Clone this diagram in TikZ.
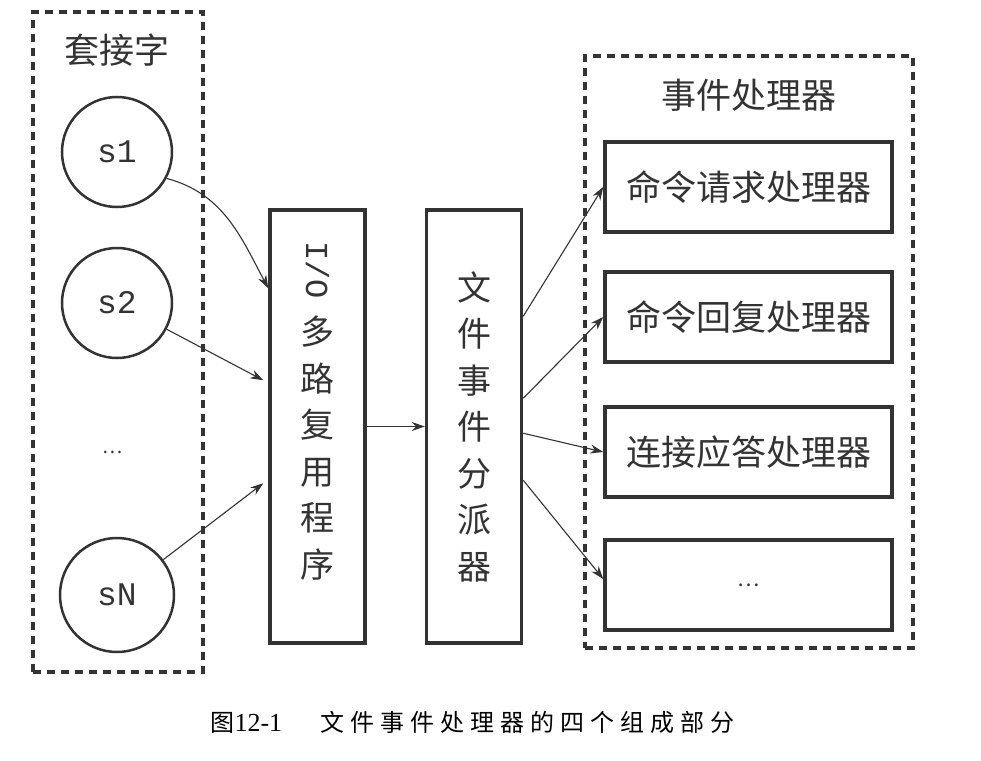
\documentclass[tikz,border=0pt]{standalone}
\usepackage{fontspec}
\setmainfont{Noto Sans CJK SC}
\newfontfamily\monof{Liberation Mono}
\newfontfamily\capserif{Liberation Serif}
\newfontfamily\capcjk[LetterSpace=25]{Noto Sans CJK SC}
\usetikzlibrary{arrows.meta,calc}
\definecolor{ink}{HTML}{333333}
\begin{document}
\begin{tikzpicture}[x=1pt,y=-1pt,
  grp/.style={draw=ink, line width=3.5pt, dash pattern=on 8pt off 6pt, inner sep=0},
  sock/.style={circle, draw=ink, line width=2.5pt, minimum size=110pt, inner sep=0, text=ink, font=\monof\fontsize{33}{33}\selectfont},
  box/.style={draw=ink, line width=3.5pt, inner sep=0, text=ink},
  hbox/.style={box, minimum width=287pt, minimum height=90pt, font=\fontsize{35}{35}\selectfont},
  title/.style={text=ink, font=\fontsize{35}{35}\selectfont},
  vtext/.style={text=ink, align=center, font=\fontsize{34}{46.5}\selectfont},
  arr/.style={draw=ink, line width=1.1pt, -{Stealth[length=13pt,width=9pt]}}]
\useasboundingbox[fill=white] (0,0) rectangle (981,760);
% sockets group
\node[grp, minimum width=170pt, minimum height=660pt] (sockets) at (118,342) {};
\node[title] (sockT) at (117,50) {套接字};
\node[sock] (s1) at (117,152) {s1};
\node[sock] (s2) at (117,303) {s2};
\node[text=ink, font=\fontsize{19}{19}\selectfont] (sdots) at (113,452) {…};
\node[sock, minimum size=114pt] (sN) at (117,595) {sN};
% I/O multiplexer
\node[box, minimum width=95pt, minimum height=433pt] (io) at (317.5,426.5) {};
\node[vtext, anchor=north] (ioT) at (317.5,238) {\rotatebox{-90}{\monof\fontsize{32}{32}\selectfont I/O}\\[16pt]多\\路\\复\\用\\程\\序};
% dispatcher
\node[box, minimum width=95pt, minimum height=433pt, vtext] (disp) at (474,426.5) {文\\件\\事\\件\\分\\派\\器};
% handlers group
\node[grp, minimum width=328pt, minimum height=592pt] (handlers) at (749,352) {};
\node[title] (handT) at (749,95) {事件处理器};
\node[hbox] (h1) at (748.5,187) {命令请求处理器};
\node[hbox] (h2) at (748.5,317) {命令回复处理器};
\node[hbox] (h3) at (748.5,452) {连接应答处理器};
\node[hbox, font=\fontsize{21}{21}\selectfont] (h4) at (748.5,585) {…};
% connectors
\draw[arr] (s1.-28) to[out=-15,in=118] ($(io.north west)+(0,80)$);
\draw[arr] (s2) -- ($(io.north west)+(-5,172)$);
\draw[arr] (sN) -- ($(io.north west)+(-5,275)$);
\draw[arr] (io) -- (disp);
\draw[arr] ($(disp.north east)+(0,108)$) -- (h1.west);
\draw[arr] ($(disp.north east)+(0,190)$) -- (h2.west);
\draw[arr] ($(disp.north east)+(0,225)$) -- (h3.west);
\draw[arr] ($(disp.north east)+(0,272)$) -- ($(h4.west)+(0,-6)$);
% caption
\node[anchor=west, text=black, font=\fontsize{24}{24}\selectfont] (cap) at (207,722) {图{\capserif\fontsize{26}{26}\selectfont 12-1}\hspace{38pt}{\capcjk 文件事件处理器的四个组成部分}};
\end{tikzpicture}
\end{document}
